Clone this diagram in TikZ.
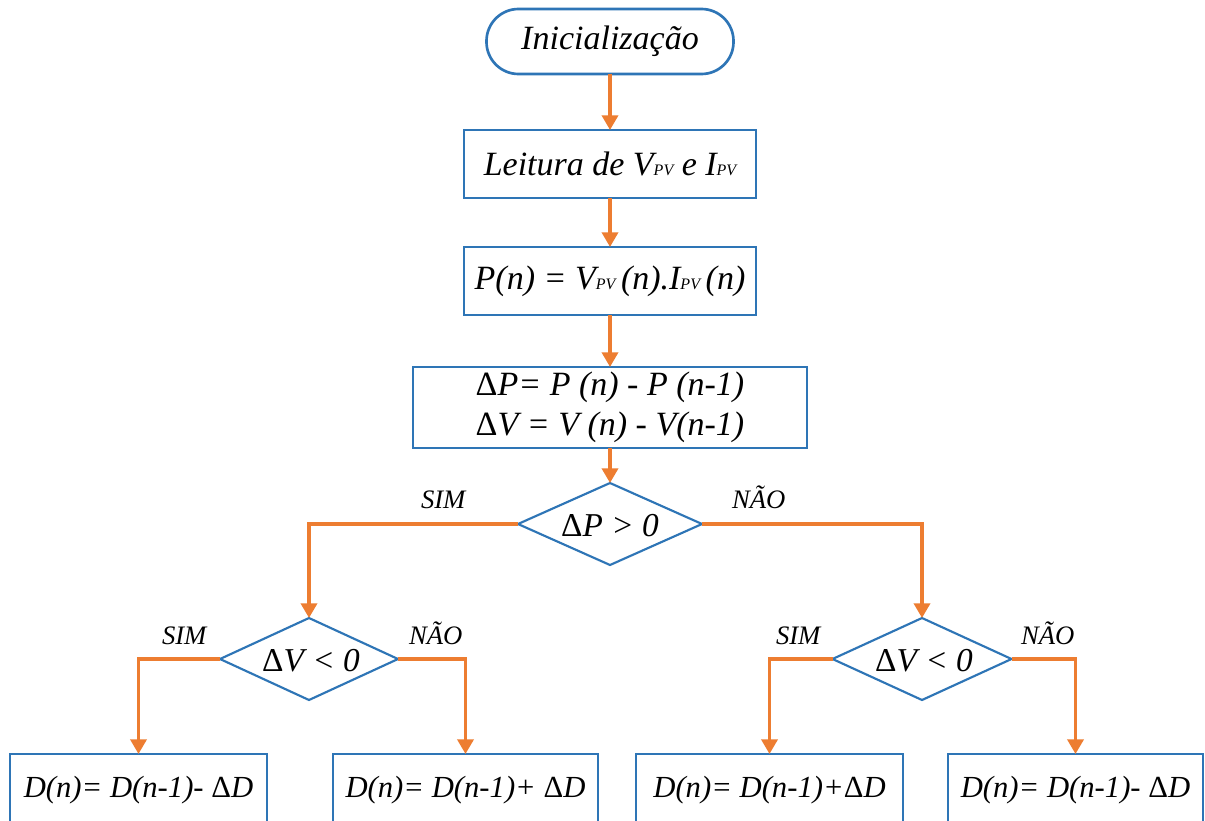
\documentclass[tikz,border=0pt]{standalone}
\usepackage{fontspec}
\setmainfont{Liberation Serif}
\usetikzlibrary{shapes.geometric,arrows.meta}
\definecolor{flowor}{HTML}{ED7D31}
\definecolor{flowbl}{HTML}{2E75B6}
\newcommand\pvs{{\fontsize{12}{12}\selectfont PV}}
\newcommand\Dl{\textup{Δ}}
\begin{document}
\begin{tikzpicture}[x=0.75pt,y=-0.75pt,
  every node/.style={inner sep=0pt, outer sep=0pt},
  box/.style={draw=flowbl, line width=2pt, fill=white, rectangle},
  term/.style={box, rounded corners=24pt},
  dia/.style={draw=flowbl, line width=1.6pt, fill=white, diamond},
  big/.style={font=\fontsize{25.5}{30}\selectfont\itshape},
  mid/.style={font=\fontsize{25}{30}\selectfont\itshape},
  small/.style={font=\fontsize{23}{27}\selectfont\itshape},
  lab/.style={font=\fontsize{20}{24}\selectfont\itshape, anchor=base west},
  flow/.style={draw=flowor, line width=2.6pt, -{Triangle[width=12pt,length=11pt]}}
]
\useasboundingbox (0,0) rectangle (1205,820);
\clip (0,0) rectangle (1205,820);
\fill[white] (0,0) rectangle (1205,820);

\node[term, big, minimum width=185.25pt, minimum height=48.75pt] (start) at (610,41.5) {Inicialização};
\node[box, big, minimum width=219pt, minimum height=51pt] (read) at (610,164) {Leitura de V\pvs{} e I\pvs};
\node[box, big, minimum width=219pt, minimum height=51pt] (pow) at (610,281) {P(n) = V\pvs\,(n).I\pvs\,(n)};
\node[box, big, minimum width=295.5pt, minimum height=60.75pt, align=center] (delta) at (610,407.5)
  {\Dl P= P (n) - P (n-1)\\\Dl V = V (n) - V(n-1)};

\node[dia, minimum width=138pt, minimum height=61.5pt] (d1) at (610,524) {};
\node[mid] (t1) at (610,526) {\Dl P > 0};
\node[dia, minimum width=133.5pt, minimum height=61.5pt] (d2) at (309,659) {};
\node[mid] (t2) at (311,661) {\Dl V < 0};
\node[dia, minimum width=134.25pt, minimum height=61.5pt] (d3) at (922,659) {};
\node[mid] (t3) at (924,661) {\Dl V < 0};

\node[box, small, minimum width=192.75pt, minimum height=54pt] (b1) at (138.5,790) {D(n)= D(n-1)- \Dl D};
\node[box, small, minimum width=198.75pt, minimum height=54pt] (b2) at (465.5,790) {D(n)= D(n-1)+ \Dl D};
\node[box, small, minimum width=200.25pt, minimum height=54pt] (b3) at (769.5,790) {D(n)= D(n-1)+\Dl D};
\node[box, small, minimum width=191.25pt, minimum height=54pt] (b4) at (1075.5,790) {D(n)= D(n-1)- \Dl D};

\draw[flow] (start) -- (read);
\draw[flow] (read) -- (pow);
\draw[flow] (pow) -- (delta);
\draw[flow] (delta) -- (d1);
\draw[flow] (d1.west) -| (d2.north);
\draw[flow] (d1.east) -| (d3.north);
\draw[flow] (d2.west) -| (b1.north);
\draw[flow] (d2.east) -| (b2.north);
\draw[flow] (d3.west) -| (b3.north);
\draw[flow] (d3.east) -| (b4.north);

\node[lab] (l1) at (421,508) {SIM};
\node[lab] (l2) at (732,508) {NÃO};
\node[lab] (l3) at (162,644) {SIM};
\node[lab] (l4) at (409,644) {NÃO};
\node[lab] (l5) at (776,644) {SIM};
\node[lab] (l6) at (1021,644) {NÃO};
\end{tikzpicture}
\end{document}
